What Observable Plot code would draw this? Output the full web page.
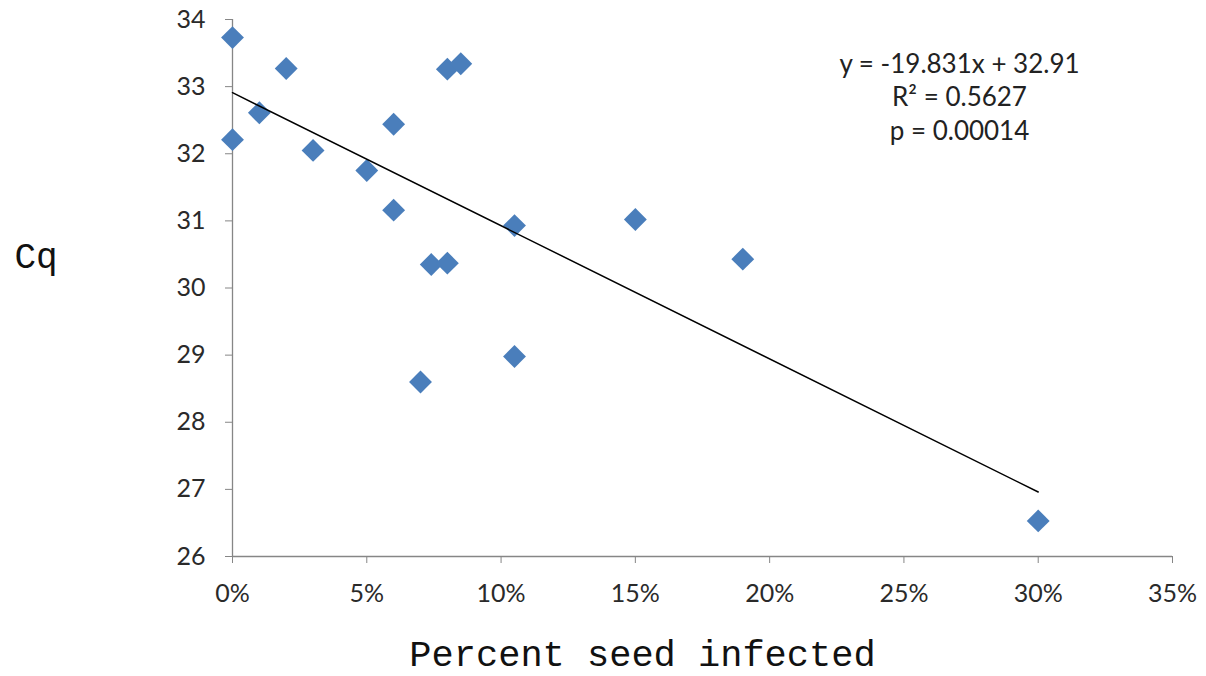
<!DOCTYPE html>
<html>
<head>
<meta charset="utf-8">
<script src="https://cdn.jsdelivr.net/npm/d3@7"></script>
<script src="https://cdn.jsdelivr.net/npm/@observablehq/plot@0.6"></script>
<style>
  html, body { margin: 0; padding: 0; background: #fff; }
</style>
</head>
<body>
<div id="chart"></div>
<script>
// Percent seed infected (fraction) and Cq values
const pct = [0, 0, 0.01, 0.02, 0.03, 0.05, 0.06, 0.06, 0.07, 0.074, 0.08, 0.08, 0.085, 0.105, 0.105, 0.15, 0.19, 0.30];
const cq  = [33.73, 32.21, 32.61, 33.27, 32.05, 31.75, 32.44, 31.16, 28.60, 30.35, 33.26, 30.37, 33.34, 30.93, 28.98, 31.02, 30.43, 26.53];

// Linear fit reported on the chart
const fitSlope = -19.831;
const fitIntercept = 32.91;
const fitRange = [0, 0.30];

const xTicks = [0, 0.05, 0.10, 0.15, 0.20, 0.25, 0.30, 0.35];
const yTicks = [26, 27, 28, 29, 30, 31, 32, 33, 34];
const eqLines = ["y = -19.831x + 32.91", "R\u00B2 = 0.5627", "p = 0.00014"];
const xTitle = "Percent seed infected";
const yTitle = "Cq";

const points = pct.map((p, i) => ({x: p, y: cq[i]}));
const fit = fitRange.map(x => ({x, y: fitIntercept + fitSlope * x}));

const chart = Plot.plot({
  width: 1206,
  height: 676,
  marginLeft: 232,
  marginRight: 34,
  marginTop: 19,
  marginBottom: 120,
  style: {fontFamily: "Lato, 'Open Sans', sans-serif", background: "#fff"},
  x: {domain: [0, 0.35]},
  y: {domain: [26, 34]},
  marks: [
    Plot.ruleX([0], {stroke: "#868686", strokeWidth: 1.3}),
    Plot.ruleY([26], {stroke: "#868686", strokeWidth: 1.3}),
    Plot.axisX({ticks: xTicks, tickSize: 7, tickPadding: 21, fontSize: 25, stroke: "#868686", fill: "#2a2a2a",
      tickFormat: d => Math.round(d * 100) + "%", label: null}),
    Plot.axisY({ticks: yTicks, tickSize: 7, tickPadding: 20, fontSize: 25, stroke: "#868686", fill: "#2a2a2a",
      tickFormat: d => String(d), label: null}),
    Plot.dot(points, {x: "x", y: "y", symbol: "diamond2", r: 10.3, fill: "#4A7EBB", stroke: "none"}),
    Plot.line(fit, {x: "x", y: "y", stroke: "#000", strokeWidth: 1.5}),
    Plot.text([eqLines.join("\n")], {frameAnchor: "top-right", textAnchor: "middle", lineAnchor: "middle",
      dx: -213, dy: 76, fontSize: 26, lineHeight: 1.3, fill: "#222"}),
    Plot.text([yTitle], {frameAnchor: "left", textAnchor: "start", dx: -218, dy: -32,
      fontFamily: "'Liberation Mono', 'DejaVu Sans Mono', monospace", fontSize: 36, fill: "#111"}),
    Plot.text([xTitle], {frameAnchor: "bottom", textAnchor: "middle", lineAnchor: "middle", dx: -60, dy: 98,
      fontFamily: "'Liberation Mono', 'DejaVu Sans Mono', monospace", fontSize: 37, fill: "#111"})
  ]
});
document.getElementById("chart").appendChild(chart);
</script>
</body>
</html>
